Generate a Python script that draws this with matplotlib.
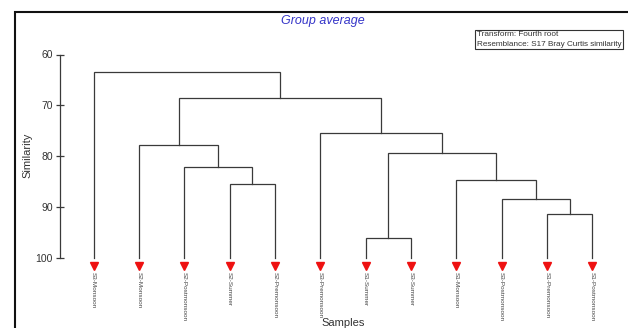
import matplotlib
matplotlib.use("Agg")
import matplotlib.pyplot as plt
from matplotlib.patches import Rectangle
from matplotlib import transforms

plt.rcParams['font.family'] = ['Liberation Sans', 'DejaVu Sans']

# Leaf labels in dendrogram order
samples = ["S3-Monsoon", "S2-Monsoon", "S2-Postmonsoon", "S2-Summer",
           "S2-Premonsoon", "S3-Premonsoon", "S1-Summer", "S3-Summer",
           "S1-Monsoon", "S3-Postmonsoon", "S1-Premonsoon", "S1-Postmonsoon"]

# Group-average merges: (left node, right node, similarity %)
# leaves are 0..11, new clusters numbered from 12 in merge order
merge_left = [3, 2, 1, 10, 9, 8, 6, 18, 5, 14, 0]
merge_right = [4, 12, 13, 11, 15, 16, 7, 17, 19, 20, 21]
merge_similarity = [85.6, 82.1, 77.9, 91.5, 88.5, 84.7, 96.1, 79.4, 75.4, 68.5, 63.4]

yticks = [60, 70, 80, 90, 100]

line_color = "#3a3a3a"

fig = plt.figure(figsize=(6.28, 3.28), dpi=100)
ax = fig.add_axes([60 / 628, 1 - 257.5 / 328, 560 / 628, 203 / 328])

n = len(samples)
pos = {i: float(i) for i in range(n)}
height = {i: 100.0 for i in range(n)}
for k, (a, b, s) in enumerate(zip(merge_left, merge_right, merge_similarity)):
    xa, xb = pos[a], pos[b]
    ya, yb = height[a], height[b]
    ax.plot([xa, xa, xb, xb], [ya, s, s, yb], color=line_color, lw=0.9,
            solid_joinstyle='miter', clip_on=False)
    node = n + k
    pos[node] = (xa + xb) / 2
    height[node] = s

# Leaf markers and labels just below the 100% baseline
mark_tf = ax.transData + transforms.ScaledTranslation(0, -8 / 100, fig.dpi_scale_trans)
label_tf = ax.transData + transforms.ScaledTranslation(0, -14 / 100, fig.dpi_scale_trans)
for i, name in enumerate(samples):
    ax.plot(i, 100, marker='v', color='#ee1111', markersize=5.5, ls='none',
            transform=mark_tf, clip_on=False)
    ax.text(i, 100, name, rotation=270, ha='center', va='top', fontsize=4.6,
            color='#444444', transform=label_tf)

ax.set_xlim(-0.7435, 11.611)
ax.set_ylim(100, 60)
ax.set_yticks(yticks)
ax.set_xticks([])
for side in ['top', 'right', 'bottom']:
    ax.spines[side].set_visible(False)
ax.spines['left'].set_color(line_color)
ax.spines['left'].set_linewidth(0.9)
ax.tick_params(axis='y', direction='inout', length=6, width=0.9, colors=line_color,
               labelsize=7.5, labelcolor='#333333', pad=2)
ax.patch.set_visible(False)

fig.text(27 / 628, 1 - 155 / 328, "Similarity", rotation=90, ha='center', va='center',
         fontsize=8, color='#333333')
fig.text(343 / 628, 1 - 323 / 328, "Samples", ha='center', va='center',
         fontsize=8, color='#333333')
fig.text(323 / 628, 1 - 21 / 328, "Group average", ha='center', va='center',
         fontsize=9, style='italic', color='#3535c8')

fig.text(477 / 628, 1 - 39.5 / 328,
         "Transform: Fourth root\nResemblance: S17 Bray Curtis similarity",
         ha='left', va='center', fontsize=5.9, color='#333333', linespacing=1.4,
         bbox=dict(boxstyle='square,pad=0.2', facecolor='white',
                   edgecolor='#333333', linewidth=0.8))

# Outer frame around the plot area
fig.patches.append(Rectangle((15 / 628, -0.2), 1.2, 1.2 - 12 / 328 + 0.0,
                             transform=fig.transFigure, fill=False,
                             edgecolor='#111111', linewidth=1.5))

fig.savefig("out.png", dpi=100)
